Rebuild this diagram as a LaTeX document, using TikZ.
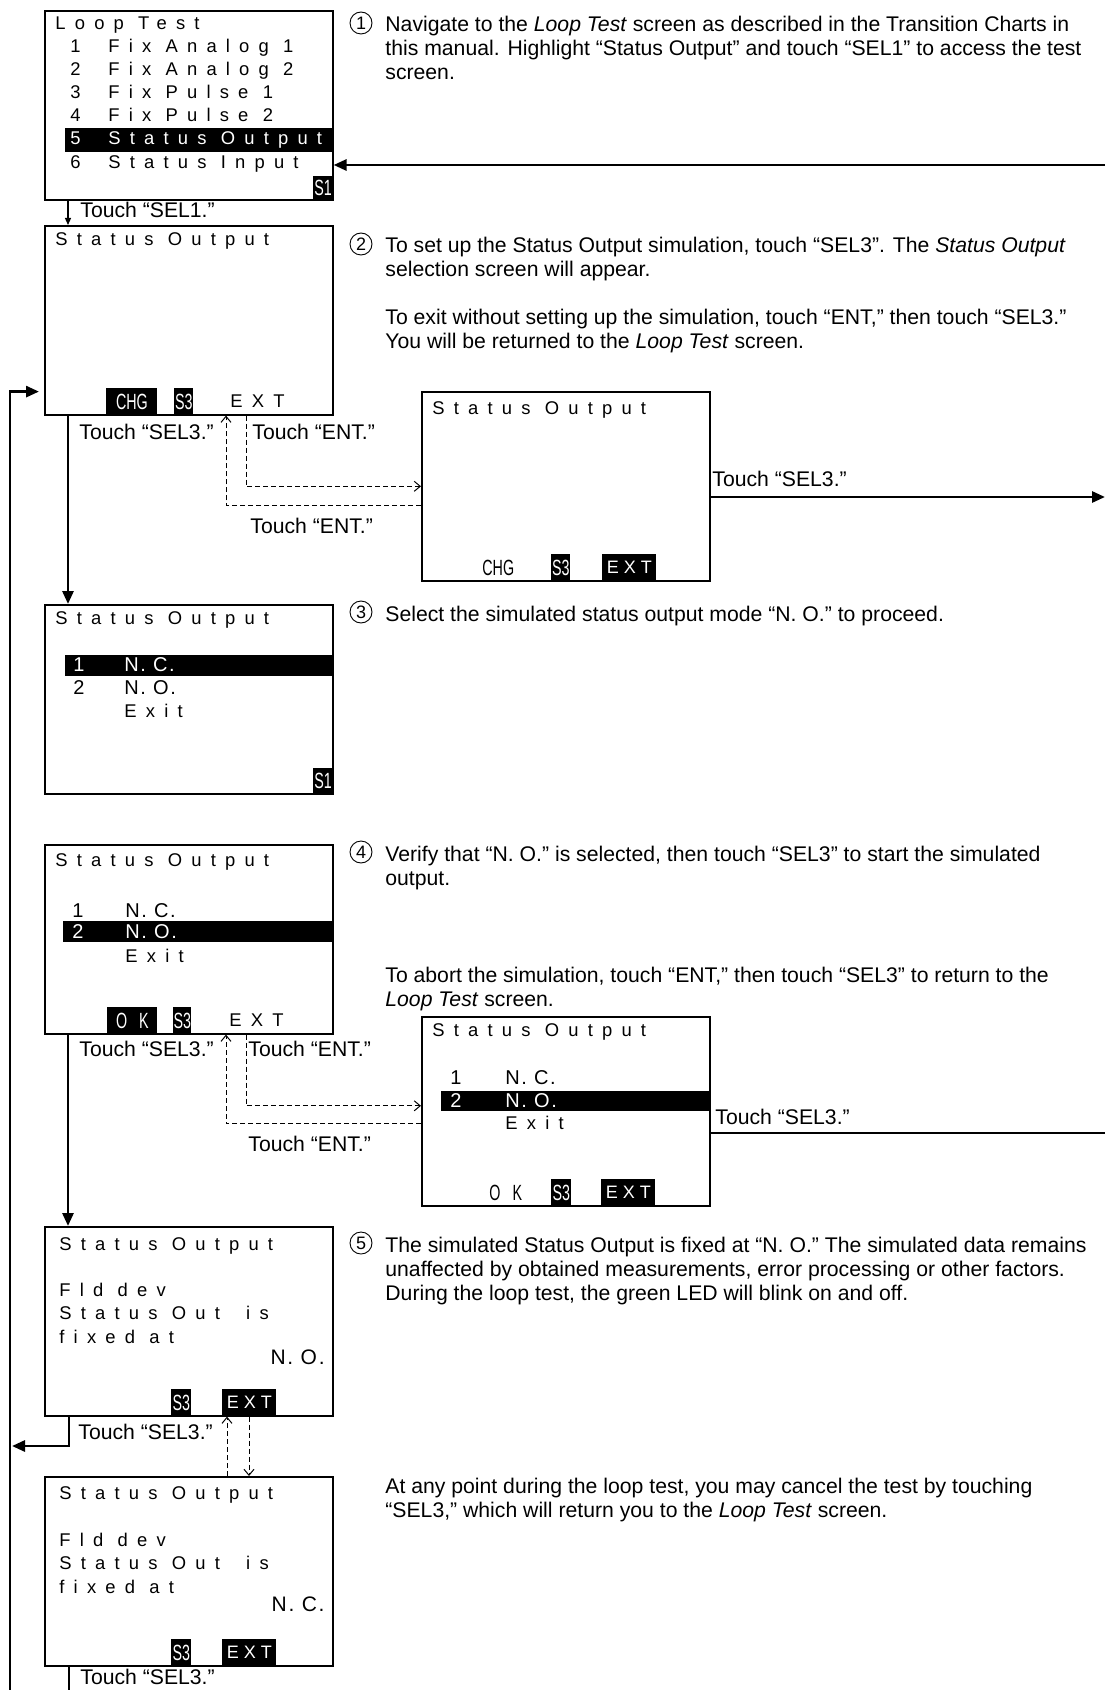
\documentclass[tikz,border=0pt]{standalone}
\usepackage{fontspec}
\setmainfont{Liberation Sans}
\newfontfamily\lcdfont[LetterSpace=50]{Liberation Sans}
\newfontfamily\lcdsemi[LetterSpace=8]{Liberation Sans}
\newfontfamily\lcdkey[LetterSpace=28]{Liberation Sans}
\newfontfamily\lcdnarrow[FakeStretch=0.65]{Liberation Sans}
\usetikzlibrary{arrows.meta, positioning, calc}

\begin{document}
\begin{tikzpicture}[x=0.5pt, y=-0.5pt,
  screen/.style={draw, line width=0.8pt, minimum width=144pt, minimum height=94.5pt, inner sep=0pt, anchor=north west},
  lcd/.style={anchor=base west, inner sep=0pt, font=\lcdfont\fontsize{9.2}{10}\selectfont},
  lcdnum/.style={anchor=base west, inner sep=0pt, font=\lcdsemi\fontsize{10}{10}\selectfont},
  softkey/.style={fill=black, text=white, inner sep=0pt, anchor=south west, minimum height=13.5pt, font=\lcdnarrow\fontsize{11}{11}\selectfont},
  extkey/.style={softkey, inner xsep=1pt, minimum width=27pt, font=\lcdkey\fontsize{9}{10}\selectfont},
  txt/.style={anchor=base west, inner sep=0pt, align=left, font=\fontsize{10.6}{12}\selectfont},
  lbl/.style={anchor=base west, inner sep=0pt, font=\fontsize{10.6}{12}\selectfont},
  num/.style={circle, draw, line width=0.45pt, inner sep=0pt, minimum size=11pt, font=\fontsize{9}{9}\selectfont},
  arr/.style={-{Triangle[length=6.5pt, width=5.5pt]}, line width=1.4pt},
  trunk/.style={line width=1.4pt},
  thinarr/.style={-{Triangle[length=3.5pt, width=3pt]}, line width=0.6pt},
  dasharr/.style={-{Straight Barb[length=3pt, width=5pt]}, dash pattern=on 2.5pt off 1.5pt, line width=0.5pt},
]
  \useasboundingbox (0,0) rectangle (1105,1690);

  % Screens, left column
  \node[screen] (s1) at (44,10) {};
  \node[screen] (s2) at (44,225) {};
  \node[screen] (s3) at (44,604) {};
  \node[screen] (s4) at (44,844) {};
  \node[screen] (s5) at (44,1226) {};
  \node[screen] (s6) at (44,1476) {};
  % Screens, right column
  \node[screen] (s2b) at (421,391) {};
  \node[screen] (s4b) at (421,1016) {};

  % Loop Test menu
  \fill ($(s1.north west)+(21,118)$) rectangle ($(s1.north east)+(0,142)$);
  \node[lcd] (s1t) at ($(s1.north west)+(11,20)$) {Loop Test};
  \node[lcd] (s1n1) at ($(s1.north west)+(26,43)$) {1};
  \node[lcd] (s1i1) at ($(s1.north west)+(64,43)$) {Fix Analog 1};
  \node[lcd] (s1n2) at ($(s1.north west)+(26,66)$) {2};
  \node[lcd] (s1i2) at ($(s1.north west)+(64,66)$) {Fix Analog 2};
  \node[lcd] (s1n3) at ($(s1.north west)+(26,89)$) {3};
  \node[lcd] (s1i3) at ($(s1.north west)+(64,89)$) {Fix Pulse 1};
  \node[lcd] (s1n4) at ($(s1.north west)+(26,112)$) {4};
  \node[lcd] (s1i4) at ($(s1.north west)+(64,112)$) {Fix Pulse 2};
  \node[lcd, text=white] (s1n5) at ($(s1.north west)+(26,135)$) {5};
  \node[lcd, text=white] (s1i5) at ($(s1.north west)+(64,135)$) {Status Output};
  \node[lcd] (s1n6) at ($(s1.north west)+(26,159)$) {6};
  \node[lcd] (s1i6) at ($(s1.north west)+(64,159)$) {Status Input};
  \node[softkey, anchor=south east, minimum width=10pt, minimum height=12pt] (s1k) at (s1.south east) {S1};

  % Status Output, blank
  \node[lcd] (s2t) at ($(s2.north west)+(11,21)$) {Status Output};
  \node[softkey, minimum width=25.5pt] (s2k1) at ($(s2.south west)+(62,0)$) {CHG};
  \node[softkey, minimum width=9.5pt] (s2k2) at ($(s2.south west)+(130,0)$) {S3};
  \node[lcd] (s2k3) at ($(s2.south west)+(186,-8)$) {EXT};

  \node[lcd] (s2bt) at ($(s2b.north west)+(11,23)$) {Status Output};
  \node[lcdnum, font=\lcdnarrow\fontsize{11}{11}\selectfont] (s2bk1) at ($(s2b.south west)+(61,-6)$) {CHG};
  \node[softkey, minimum width=9.5pt] (s2bk2) at ($(s2b.south west)+(130,0)$) {S3};
  \node[extkey] (s2bk3) at ($(s2b.south west)+(181,0)$) {EXT};

  % Status Output, mode selection
  \fill ($(s3.north west)+(21,51)$) rectangle ($(s3.north east)+(0,72)$);
  \node[lcd] (s3t) at ($(s3.north west)+(11,20)$) {Status Output};
  \node[lcdnum, text=white] (s3n1) at ($(s3.north west)+(29,67)$) {1};
  \node[lcdnum, text=white] (s3i1) at ($(s3.north west)+(80,67)$) {N. C.};
  \node[lcdnum] (s3n2) at ($(s3.north west)+(29,90)$) {2};
  \node[lcdnum] (s3i2) at ($(s3.north west)+(80,90)$) {N. O.};
  \node[lcd] (s3i3) at ($(s3.north west)+(80,113)$) {Exit};
  \node[softkey, anchor=south east, minimum width=10pt, minimum height=13pt] (s3k) at (s3.south east) {S1};

  \fill ($(s4.north west)+(19,77)$) rectangle ($(s4.north east)+(0,98)$);
  \node[lcd] (s4t) at ($(s4.north west)+(11,22)$) {Status Output};
  \node[lcdnum] (s4n1) at ($(s4.north west)+(28,73)$) {1};
  \node[lcdnum] (s4i1) at ($(s4.north west)+(81,73)$) {N. C.};
  \node[lcdnum, text=white] (s4n2) at ($(s4.north west)+(28,94)$) {2};
  \node[lcdnum, text=white] (s4i2) at ($(s4.north west)+(81,94)$) {N. O.};
  \node[lcd] (s4i3) at ($(s4.north west)+(81,118)$) {Exit};
  \node[softkey, minimum width=25pt] (s4k1) at ($(s4.south west)+(63,0)$) {O\hspace{6pt}K};
  \node[softkey, minimum width=9pt] (s4k2) at ($(s4.south west)+(129,0)$) {S3};
  \node[lcd] (s4k3) at ($(s4.south west)+(185,-8)$) {EXT};

  \fill ($(s4b.north west)+(20,75)$) rectangle ($(s4b.north east)+(0,95)$);
  \node[lcd] (s4bt) at ($(s4b.north west)+(11,20)$) {Status Output};
  \node[lcdnum] (s4bn1) at ($(s4b.north west)+(29,68)$) {1};
  \node[lcdnum] (s4bi1) at ($(s4b.north west)+(84,68)$) {N. C.};
  \node[lcdnum, text=white] (s4bn2) at ($(s4b.north west)+(29,91)$) {2};
  \node[lcdnum, text=white] (s4bi2) at ($(s4b.north west)+(84,91)$) {N. O.};
  \node[lcd] (s4bi3) at ($(s4b.north west)+(84,113)$) {Exit};
  \node[lcdnum, font=\lcdnarrow\fontsize{11}{11}\selectfont] (s4bk1) at ($(s4b.south west)+(68,-6)$) {O\hspace{6pt}K};
  \node[softkey, minimum width=10pt] (s4bk2) at ($(s4b.south west)+(130,0)$) {S3};
  \node[extkey] (s4bk3) at ($(s4b.south west)+(180,0)$) {EXT};

  % Status Output, fixed
  \node[lcd] (s5t) at ($(s5.north west)+(15,24)$) {Status Output};
  \node[lcd] (s5l1) at ($(s5.north west)+(15,70)$) {Fld dev};
  \node[lcd] (s5l2) at ($(s5.north west)+(15,93)$) {Status Out\hspace{6pt} is};
  \node[lcd] (s5l3) at ($(s5.north west)+(15,117)$) {fixed at};
  \node[lcdnum, anchor=base east, font=\lcdsemi\fontsize{10.5}{11}\selectfont] (s5v) at ($(s5.north west)+(281,138)$) {N. O.};
  \node[softkey, minimum width=10pt] (s5k1) at ($(s5.south west)+(127,0)$) {S3};
  \node[extkey] (s5k2) at ($(s5.south west)+(178,0)$) {EXT};

  \node[lcd] (s6t) at ($(s6.north west)+(15,23)$) {Status Output};
  \node[lcd] (s6l1) at ($(s6.north west)+(15,70)$) {Fld dev};
  \node[lcd] (s6l2) at ($(s6.north west)+(15,93)$) {Status Out\hspace{6pt} is};
  \node[lcd] (s6l3) at ($(s6.north west)+(15,117)$) {fixed at};
  \node[lcdnum, anchor=base east, font=\lcdsemi\fontsize{10.5}{11}\selectfont] (s6v) at ($(s6.north west)+(281,135)$) {N. C.};
  \node[softkey, minimum width=10pt] (s6k1) at ($(s6.south west)+(127,0)$) {S3};
  \node[extkey] (s6k2) at ($(s6.south west)+(178,0)$) {EXT};

  % Free ends
  \coordinate (in1) at (1105,165);
  \coordinate (out1) at (1105,497);
  \coordinate (out2) at (1105,1133);
  \coordinate (railend) at (10,1690);
  \coordinate (railjoin) at (12,1446);
  \coordinate (exit6) at (69,1690);

  % Arrows
  \draw[arr] (in1) -- (in1 -| s1.east);
  \draw[thinarr] ([xshift=12pt]s1.south west) -- ([xshift=12pt]s2.north west);
  \draw[arr] ([xshift=12pt]s2.south west) -- ([xshift=12pt]s3.north west);
  \draw[dasharr] ([xshift=101pt]s2.south west) |- (s2b.west);
  \draw[dasharr] ([yshift=-9.5pt]s2b.west) -| ([xshift=91pt]s2.south west);
  \draw[arr] (s2b.east |- out1) -- (out1);

  \draw[arr] ([xshift=12pt]s4.south west) -- ([xshift=12pt]s5.north west);
  \draw[dasharr] ([xshift=101pt]s4.south west) |- ([yshift=2.75pt]s4b.west);
  \draw[dasharr] ([yshift=-6.25pt]s4b.west) -| ([xshift=91pt]s4.south west);
  \draw[trunk] (s4b.east |- out2) -- (out2);

  \draw[arr] ([xshift=12.5pt]s5.south west) |- (railjoin);
  \draw[dasharr] ([xshift=91.5pt]s6.north west) -- ([xshift=91.5pt]s5.south west);
  \draw[dasharr] ([xshift=102.5pt]s5.south west) -- ([xshift=102.5pt]s6.north west);
  \draw[trunk] ([xshift=12.5pt]s6.south west) -- (exit6);

  % Return rail
  \draw[arr, shorten >=2.5pt] (railend) |- ([yshift=12pt]s2.south west);

  % Connector labels
  \node[lbl] (t1) at (80,218) {Touch “SEL1.”};
  \node[lbl] (t2) at (79,439) {Touch “SEL3.”};
  \node[lbl] (t3) at (252,439) {Touch “ENT.”};
  \node[lbl] (t4) at (250,533) {Touch “ENT.”};
  \node[lbl] (t5) at (712,486) {Touch “SEL3.”};
  \node[lbl] (t6) at (79,1056) {Touch “SEL3.”};
  \node[lbl] (t7) at (248,1056) {Touch “ENT.”};
  \node[lbl] (t8) at (248,1151) {Touch “ENT.”};
  \node[lbl] (t9) at (715,1124) {Touch “SEL3.”};
  \node[lbl] (t10) at (78,1439) {Touch “SEL3.”};
  \node[lbl] (t11) at (80,1684) {Touch “SEL3.”};

  % Steps (base = last line)
  \node[num] (n1) at (361,23) {1};
  \node[txt] (p1) at (385,80) {Navigate to the \textit{Loop Test} screen as described in the Transition Charts in\\this manual. Highlight “Status Output” and touch “SEL1” to access the test\\screen.};
  \node[num] (n2) at (361,244) {2};
  \node[txt] (p2) at (385,277) {To set up the Status Output simulation, touch “SEL3”. The \textit{Status Output}\\selection screen will appear.};
  \node[txt] (p2b) at (385,349) {To exit without setting up the simulation, touch “ENT,” then touch “SEL3.”\\You will be returned to the \textit{Loop Test} screen.};
  \node[num] (n3) at (361,612) {3};
  \node[txt] (p3) at (385,621) {Select the simulated status output mode “N. O.” to proceed.};
  \node[num] (n4) at (361,852) {4};
  \node[txt] (p4) at (385,885) {Verify that “N. O.” is selected, then touch “SEL3” to start the simulated\\output.};
  \node[txt] (p4b) at (385,1006) {To abort the simulation, touch “ENT,” then touch “SEL3” to return to the\\\textit{Loop Test} screen.};
  \node[num] (n5) at (361,1243) {5};
  \node[txt] (p5) at (385,1300) {The simulated Status Output is fixed at “N. O.” The simulated data remains\\unaffected by obtained measurements, error processing or other factors.\\During the loop test, the green LED will blink on and off.};
  \node[txt] (p5b) at (385,1517) {At any point during the loop test, you may cancel the test by touching\\“SEL3,” which will return you to the \textit{Loop Test} screen.};
\end{tikzpicture}
\end{document}
